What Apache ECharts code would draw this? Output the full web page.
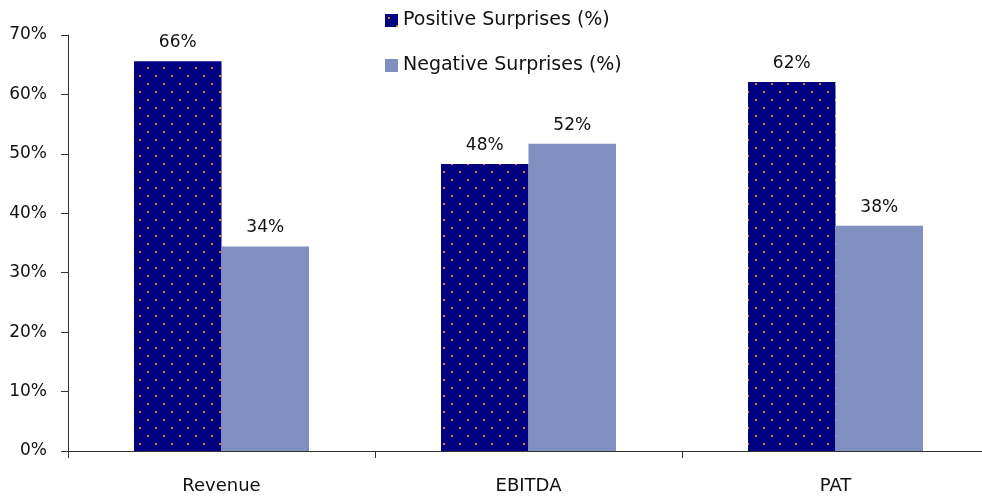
<!DOCTYPE html>
<html>
<head>
<meta charset="utf-8">
<script src="https://cdn.jsdelivr.net/npm/echarts@6/dist/echarts.min.js"></script>
<style>
  html, body { margin: 0; padding: 0; background: #fff; }
  #main { width: 982px; height: 497px; }
</style>
</head>
<body>
<div id="main"></div>
<script>
const categories = ['Revenue', 'EBITDA', 'PAT']
const positiveVals = [65.6, 48.3, 62.1]
const negativeVals = [34.4, 51.7, 37.9]
const yTicks = ['0%', '10%', '20%', '30%', '40%', '50%', '60%', '70%']

// dotted navy fill
const makeDots = () => {
  var c = document.createElement('canvas')
  c.width = 16
  c.height = 16
  var ctx = c.getContext('2d')
  ctx.fillStyle = '#000080'
  ctx.fillRect(0, 0, 16, 16)
  ctx.fillStyle = '#D97A1C'
  ctx.fillRect(3, 3, 2, 2)
  ctx.fillRect(11, 11, 2, 2)
  return c
}

const font = 'DejaVu Sans'
var chart = echarts.init(document.getElementById('main'))
chart.setOption({
  animation: false,
  textStyle: { fontFamily: font },
  legend: {
    orient: 'vertical',
    left: 380,
    top: 6,
    icon: 'rect',
    itemWidth: 13,
    itemHeight: 13,
    itemGap: 26,
    textStyle: { fontSize: 19, color: '#111', fontFamily: font },
    data: ['Positive Surprises (%)', 'Negative Surprises (%)']
  },
  grid: { left: 68, top: 35, width: 921, height: 416, outerBoundsMode: 'none' },
  xAxis: {
    type: 'category',
    data: categories,
    axisLine: { lineStyle: { color: '#333' } },
    axisTick: { show: true, length: 7, lineStyle: { color: '#333' } },
    axisLabel: { color: '#111', fontSize: 18, margin: 26 }
  },
  yAxis: {
    type: 'value',
    min: 0,
    max: 70,
    interval: 10,
    axisLine: { show: true, lineStyle: { color: '#333' } },
    axisTick: { show: true, length: 7, lineStyle: { color: '#333' } },
    splitLine: { show: false },
    axisLabel: {
      color: '#111',
      fontSize: 17,
      margin: 21,
      formatter: v => yTicks[v / 10]
    }
  },
  series: [
    {
      name: 'Positive Surprises (%)',
      type: 'bar',
      data: positiveVals,
      barGap: '0%',
      barCategoryGap: '43%',
      itemStyle: { color: { image: makeDots(), repeat: 'repeat' } },
      label: {
        show: true,
        position: 'top',
        distance: 10,
        color: '#111',
        fontSize: 17,
        formatter: p => Math.round(p.value) + '%'
      }
    },
    {
      name: 'Negative Surprises (%)',
      type: 'bar',
      data: negativeVals,
      itemStyle: { color: '#7F8FC0' },
      label: {
        show: true,
        position: 'top',
        distance: 10,
        color: '#111',
        fontSize: 17,
        formatter: p => Math.round(p.value) + '%'
      }
    }
  ]
})
</script>
</body>
</html>
